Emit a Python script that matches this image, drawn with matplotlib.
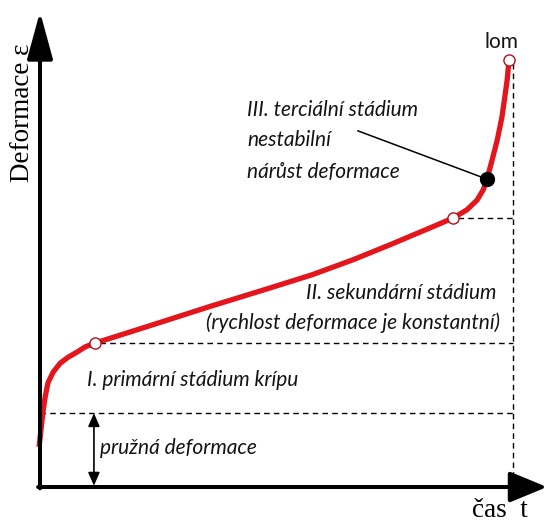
import matplotlib
matplotlib.use("Agg")
import matplotlib.pyplot as plt
from matplotlib.patches import FancyArrowPatch

# creep curve (time t, deformation eps; lom = 100)
t_vals = [-0.2, 0.2, 0.6, 1.1, 1.7, 2.8, 4.3, 6.0, 7.9, 9.6, 11.7, 23.5, 36.0, 49.0,
          58.0, 66.7, 75.0, 83.2, 88.1, 91.0, 93.2, 94.5, 95.3, 96.4, 97.5, 98.5,
          99.1, 99.6, 100.0]
eps_vals = [9.4, 13.3, 17.3, 21.1, 24.4, 26.9, 29.0, 30.4, 31.6, 32.8, 33.7, 37.8,
            42.2, 46.6, 49.7, 53.2, 56.9, 60.7, 63.0, 64.9, 67.2, 69.6, 72.1, 76.6,
            81.3, 86.7, 91.3, 95.3, 100.0]

# stage boundaries
elastic_level = 17.3
primary_end = (11.7, 33.7)
secondary_end = (88.1, 63.0)
tertiary_point = (95.3, 72.1)
fracture = (100.0, 100.0)
fracture_line_t = 100.9

RED = "#e3161d"
fig = plt.figure(figsize=(5.47, 5.26), dpi=100)
ax = fig.add_axes([0, 0, 1, 1])
ax.set_xlim(-8.53, 108.1)
ax.set_ylim(-9.13, 114.05)
ax.axis("off")

# axes arrows
lw_ax = 2.9
ax.add_patch(FancyArrowPatch((0, -0.3), (0, 111.3), arrowstyle="-|>,head_length=29,head_width=7.9",
                             mutation_scale=1, lw=lw_ax, color="black", shrinkA=0, shrinkB=0, zorder=5))
ax.add_patch(FancyArrowPatch((-0.4, 0), (108.1, 0), arrowstyle="-|>,head_length=23,head_width=9.5",
                             mutation_scale=1, lw=lw_ax, color="black", shrinkA=0, shrinkB=0, zorder=5))

# dashed guide lines
dkw = dict(color="black", lw=1.0, ls=(0, (4, 3)), zorder=2)
ax.plot([0, fracture_line_t], [elastic_level, elastic_level], **dkw)
ax.plot([primary_end[0] + 1.0, fracture_line_t], [primary_end[1], primary_end[1]], **dkw)
ax.plot([secondary_end[0] + 1.0, fracture_line_t], [secondary_end[1], secondary_end[1]], **dkw)
ax.plot([fracture_line_t, fracture_line_t], [0, fracture[1] - 0.5], **dkw)

# curve
ax.plot(t_vals, eps_vals, color=RED, lw=3.8, solid_capstyle="butt", solid_joinstyle="round", zorder=3)

# markers
okw = dict(marker="o", ms=8, mfc="white", mec="#b0101a", mew=1.0, ls="none", zorder=6)
ax.plot(*primary_end, **okw)
ax.plot(*secondary_end, **okw)
ax.plot(*fracture, **okw)
ax.plot(*tertiary_point, marker="o", ms=10, color="black", ls="none", zorder=6)

# leader line
ax.plot([67.8, tertiary_point[0]], [83.4, tertiary_point[1]], color="black", lw=1.1, zorder=4)

# elastic double arrow
ax.add_patch(FancyArrowPatch((11.5, 0.3), (11.5, elastic_level), arrowstyle="<|-|>,head_length=8,head_width=3.5",
                             mutation_scale=1, lw=1.2, color="black", shrinkA=0, shrinkB=0, zorder=4))

sans = dict(family="Lato", style="italic", fontsize=15, color="#141414")
ax.text(44.2, 88.3, "III. terciální stádium", ha="left", va="center", **sans)
ax.text(44.2, 81.3, "nestabilní", ha="left", va="center", **sans)
ax.text(44.2, 73.8, "nárůst deformace", ha="left", va="center", **sans)
ax.text(97.4, 45.4, "II. sekundární stádium", ha="right", va="center", **sans)
ax.text(98.0, 38.4, "(rychlost deformace je konstantní)", ha="right", va="center", **sans)
ax.text(10.0, 25.1, "I. primární stádium krípu", ha="left", va="center", **sans)
ax.text(12.8, 9.1, "pružná deformace", ha="left", va="center", **sans)
ax.text(98.5, 104.2, "lom", ha="center", va="center", family="Lato", fontsize=15, color="#141414")

serif = dict(family="Liberation Serif", fontsize=19.5, color="black")
ax.text(-3.7, 87.6, "Deformace ε", rotation=90, ha="center", va="center", **serif)
ax.text(98.1, -5.4, "čas  t", ha="center", va="center", **serif)

fig.savefig("out.png", dpi=100)
